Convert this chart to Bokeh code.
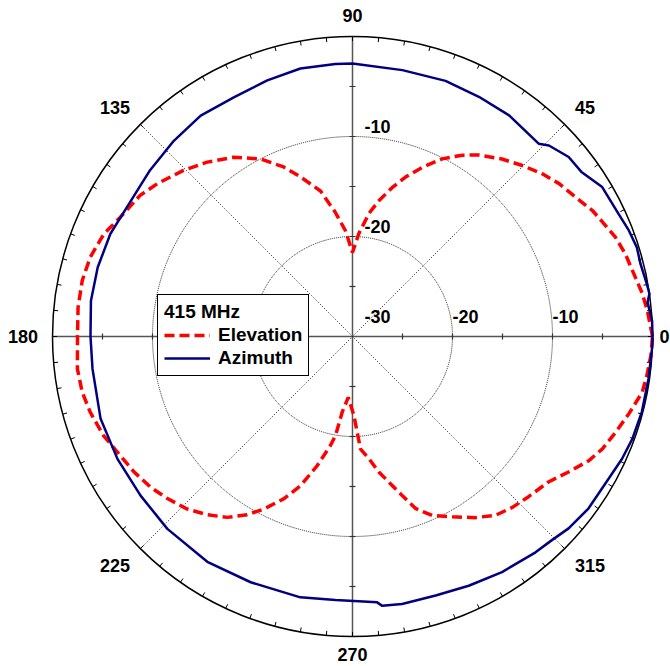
import numpy as np
from bokeh.plotting import figure
from bokeh.models import Range1d, Legend, LegendItem
from bokeh.core.properties import value
from bokeh.embed import file_html
from bokeh.resources import INLINE

# ---------------- data ----------------
title_text = "415 MHz"
series_names = ["Elevation", "Azimuth"]

elev_angle = [0, 5, 8.4, 11.8, 16.9, 20.7, 24.6, 27.7, 32, 36.5, 40.6, 45.2, 49.9, 55.2, 58.8,
              63.2, 67.6, 71.6, 75.1, 79.1, 82.4, 86.5, 90, 93.8, 98, 102.4, 108.1, 112.1,
              117.4, 123.5, 129.8, 135.5, 142, 146.4, 152.8, 157.6, 163.2, 168.3, 173.9, 180,
              186.7, 191.6, 196.1, 201.7, 206.2, 211.8, 216.7, 221.2, 226.2, 230.8, 235.3,
              239.4, 242.8, 247.1, 250.8, 254.7, 258.6, 260.3, 262.3, 266, 271, 274.1, 277.6,
              281, 284, 287.4, 290.1, 294, 298.9, 304.2, 308.7, 313.1, 317.7, 323.4, 327.9,
              332.3, 335.8, 340, 344.4, 349.1, 352.5, 356.4, 360]
elev_db = [0.0, -0.4, -0.7, -1.1, -1.5, -1.9, -2.5, -2.9, -3.7, -4.3, -5.0, -5.9, -6.8, -7.9,
           -8.8, -10.1, -11.7, -13.2, -14.6, -16.2, -17.6, -19.7, -21.6, -19.4, -17.4, -15.1,
           -13.2, -11.7, -10.0, -8.5, -7.3, -6.3, -5.2, -4.5, -3.9, -3.1, -2.6, -2.4, -2.4,
           -2.5, -2.3, -2.4, -2.7, -3.2, -3.8, -4.3, -4.8, -5.4, -6.1, -7.0, -8.0, -9.3,
           -10.6, -12.4, -14.2, -16.6, -18.9, -20.0, -22.4, -23.9, -22.1, -18.7, -17.7,
           -16.2, -15.0, -13.3, -11.7, -10.4, -9.4, -8.1, -7.1, -6.6, -6.2, -5.6, -4.5,
           -3.3, -2.6, -2.0, -1.3, -0.5, -0.3, -0.1, 0.0]

az_angle = [0, 3, 6.6, 8.2, 10.1, 14.2, 17.4, 21, 24.7, 30.9, 35.6, 39.7, 44.2, 46, 54.7,
            62.2, 70, 79.4, 90, 93.6, 101, 108.4, 116.4, 124.5, 132.4, 140.6, 150.1, 157,
            164.8, 172.2, 180, 187.1, 198.1, 207.5, 216.9, 226.1, 237.2, 247.5, 258.7, 266.3,
            275.3, 276.3, 280.5, 287.8, 295, 302.4, 310.3, 314.4, 318.4, 323.9, 331, 335.6,
            339.9, 345.4, 351.9, 358.3, 360]
az_db = [0.0, 0.0, -0.3, 0.0, -0.1, -0.3, -0.2, -0.4, -0.7, -0.9, -1.8, -1.9, -2.6, -3.2,
         -2.9, -2.9, -2.8, -2.9, -2.7, -2.7, -2.7, -3.0, -3.3, -3.2, -3.5, -3.8, -4.0, -3.7,
         -3.6, -3.6, -3.8, -3.8, -3.5, -3.5, -3.5, -3.3, -3.2, -3.4, -3.4, -3.6, -3.3, -2.9,
         -2.8, -2.8, -2.5, -2.1, -1.7, -1.5, -1.1, -0.8, -0.7, -0.4, -0.2, -0.1, -0.1, 0.0,
         0.0]

angle_ticks = [0, 45, 90, 135, 180, 225, 270, 315]
angle_tick_labels = ["0", "45", "90", "135", "180", "225", "270", "315"]
radial_min, radial_max = -30, 0
ring_levels = [-20, -10]
radial_tick_step = 5
angle_minor_step = 5

# ---------------- layout ----------------
W, H = 670, 666
CX, CY = 352, 336          # centre of the polar plot, pixels from left / top
PX = 10.0                  # pixels per dB
FONT = "Liberation Sans"
R = radial_max - radial_min

p = figure(width=W, height=H, output_backend="svg", toolbar_location=None,
           x_range=Range1d(-CX / PX, (W - CX) / PX),
           y_range=Range1d(-(H - CY) / PX, CY / PX),
           x_axis_type=None, y_axis_type=None, min_border=0)
p.grid.visible = False
p.outline_line_color = None
p.background_fill_color = "white"
p.border_fill_color = "white"


def polar(deg, db):
    t = np.radians(np.asarray(deg, dtype=float))
    r = np.asarray(db, dtype=float) - radial_min
    return r * np.cos(t), r * np.sin(t)


# dotted rings
p.circle(x=[0] * len(ring_levels), y=[0] * len(ring_levels),
         radius=[lv - radial_min for lv in ring_levels],
         fill_color=None, line_color="#222222", line_width=1, line_dash="1 1")
# outer circle
p.circle(x=[0], y=[0], radius=[R], fill_color=None, line_color="black", line_width=1.5)

# horizontal / vertical axes
p.segment(x0=[-R, 0], y0=[0, -R], x1=[R, 0], y1=[0, R], line_color="#555555", line_width=1.5)
# diagonal dotted lines
d = np.radians([45, 135])
p.segment(x0=-R * np.cos(d), y0=-R * np.sin(d), x1=R * np.cos(d), y1=R * np.sin(d),
          line_color="#111111", line_width=1, line_dash="1 2")

# outer angle ticks
ta = np.radians(np.arange(0, 360, angle_minor_step))
p.segment(x0=R * np.cos(ta), y0=R * np.sin(ta), x1=(R - 0.45) * np.cos(ta),
          y1=(R - 0.45) * np.sin(ta), line_color="black", line_width=1)

# radial ticks on the axes
rt = np.arange(radial_tick_step, R, radial_tick_step)
x0, y0, x1, y1 = [], [], [], []
for r in rt:
    for sgn in (1, -1):
        x0 += [sgn * r, -0.3]; y0 += [-0.3, sgn * r]
        x1 += [sgn * r, 0.3]; y1 += [0.3, sgn * r]
p.segment(x0=x0, y0=y0, x1=x1, y1=y1, line_color="#333333", line_width=1.2)

# data curves
ex, ey = polar(elev_angle, elev_db)
ax_, ay_ = polar(az_angle, az_db)
r_el = p.line(ex, ey, line_color="#FF0000", line_width=3.5, line_dash="10 5")
r_az = p.line(ax_, ay_, line_color="#000080", line_width=2.5)

# angle labels
for ang, lab in zip(angle_ticks, angle_tick_labels):
    c, s = np.cos(np.radians(ang)), np.sin(np.radians(ang))
    align = "left" if c > 0.3 else ("right" if c < -0.3 else "center")
    base = "bottom" if s > 0.3 else ("top" if s < -0.3 else "middle")
    rl = R + 1.45
    xl, yl = rl * c, rl * s
    if ang == 0:                      # keep the label inside the page
        xl, align = (W - CX - 1) / PX, "right"
    if ang == 270:                    # keep the label inside the page
        yl = -(H - CY - 12) / PX
        base = "middle"
    p.text(x=[xl], y=[yl], text=[lab], text_font=value(FONT), text_font_style="bold",
           text_font_size="18px", text_color="black", text_align=align, text_baseline=base)

# radial labels: along the vertical axis
for lv in ring_levels:
    p.text(x=[1.2], y=[lv - radial_min + 0.35], text=[str(lv)], text_font=value(FONT),
           text_font_style="bold", text_font_size="18px", text_color="black",
           text_align="left", text_baseline="bottom")
# along the horizontal axis
for lv in [radial_min] + ring_levels:
    xr = max(lv - radial_min, 1.2)
    p.text(x=[xr], y=[1.35], text=[str(lv)], text_font=value(FONT),
           text_font_style="bold", text_font_size="18px", text_color="black",
           text_align="left", text_baseline="bottom")

legend = Legend(items=[LegendItem(label=series_names[0], renderers=[r_el]),
                       LegendItem(label=series_names[1], renderers=[r_az])],
                title=title_text, location=(157, 290),
                title_text_font=FONT, title_text_font_style="bold", title_text_font_size="19px",
                title_text_color="black", title_standoff=1,
                label_text_font=FONT, label_text_font_style="bold", label_text_font_size="19px",
                label_text_color="black",
                border_line_color="black", border_line_width=1.5, border_line_alpha=1.0,
                background_fill_color="white", background_fill_alpha=1.0,
                padding=6, spacing=1, margin=0, glyph_width=46, glyph_height=22,
                label_height=22, label_standoff=8)
p.add_layout(legend)

open("out.html", "w").write(file_html(p, INLINE))
